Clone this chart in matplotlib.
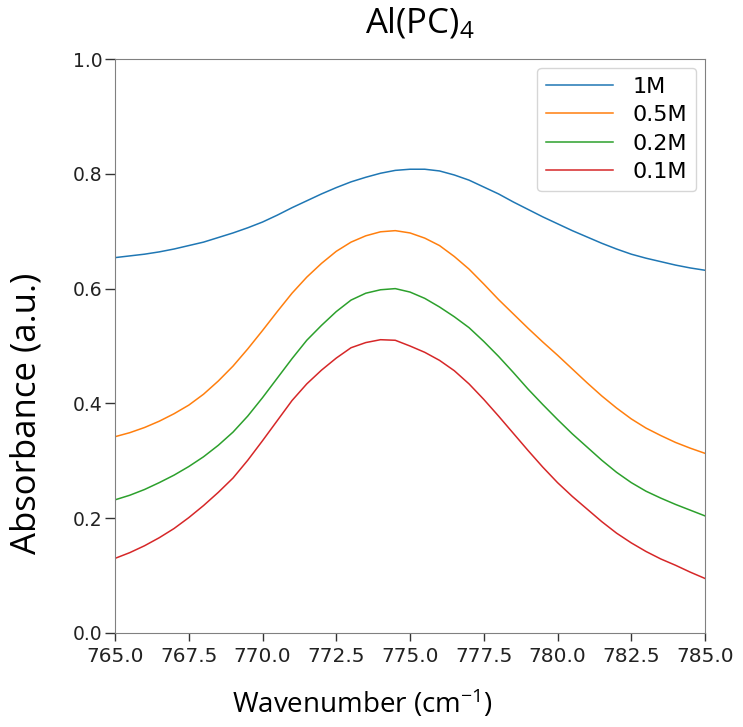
import numpy as np
import matplotlib
matplotlib.use("Agg")
import matplotlib.pyplot as plt

plt.rcParams["mathtext.fontset"] = "custom"
plt.rcParams["mathtext.rm"] = "Open Sans"
plt.rcParams["mathtext.it"] = "Open Sans:italic"

# wavenumber grid (cm-1) and absorbance
wavenumber = [765.0, 765.5, 766.0, 766.5, 767.0, 767.5, 768.0, 768.5, 769.0, 769.5,
              770.0, 770.5, 771.0, 771.5, 772.0, 772.5, 773.0, 773.5, 774.0, 774.5,
              775.0, 775.5, 776.0, 776.5, 777.0, 777.5, 778.0, 778.5, 779.0, 779.5,
              780.0, 780.5, 781.0, 781.5, 782.0, 782.5, 783.0, 783.5, 784.0, 784.5, 785.0]
abs_1m = [0.654, 0.657, 0.660, 0.664, 0.669, 0.675, 0.681, 0.689, 0.697, 0.706,
          0.716, 0.728, 0.741, 0.753, 0.765, 0.776, 0.786, 0.794, 0.801, 0.806,
          0.808, 0.808, 0.805, 0.798, 0.789, 0.777, 0.765, 0.751, 0.738, 0.725,
          0.713, 0.701, 0.690, 0.679, 0.669, 0.660, 0.653, 0.647, 0.641, 0.636, 0.632]
abs_05m = [0.342, 0.349, 0.358, 0.369, 0.382, 0.397, 0.416, 0.439, 0.465, 0.495,
           0.527, 0.560, 0.592, 0.620, 0.644, 0.665, 0.681, 0.692, 0.699, 0.701,
           0.697, 0.688, 0.675, 0.656, 0.634, 0.608, 0.581, 0.556, 0.531, 0.507,
           0.484, 0.460, 0.436, 0.413, 0.392, 0.373, 0.357, 0.344, 0.332, 0.322, 0.313]
abs_02m = [0.232, 0.240, 0.250, 0.262, 0.275, 0.290, 0.307, 0.327, 0.350, 0.378,
           0.410, 0.444, 0.478, 0.510, 0.536, 0.560, 0.580, 0.592, 0.598, 0.600,
           0.594, 0.583, 0.568, 0.551, 0.532, 0.508, 0.482, 0.454, 0.425, 0.398,
           0.372, 0.347, 0.324, 0.301, 0.280, 0.262, 0.247, 0.235, 0.224, 0.214, 0.204]
abs_01m = [0.130, 0.140, 0.152, 0.166, 0.182, 0.201, 0.222, 0.245, 0.270, 0.301,
           0.335, 0.370, 0.405, 0.434, 0.458, 0.479, 0.497, 0.506, 0.511, 0.510,
           0.500, 0.489, 0.475, 0.457, 0.434, 0.407, 0.378, 0.348, 0.318, 0.289,
           0.262, 0.238, 0.216, 0.194, 0.174, 0.157, 0.142, 0.129, 0.118, 0.106, 0.095]
labels = ["1M", "0.5M", "0.2M", "0.1M"]
colors = ["#1f77b4", "#ff7f0e", "#2ca02c", "#d62728"]

fig = plt.figure(figsize=(7.43, 7.27), dpi=100)
ax = fig.add_axes([0.1548, 0.1293, 0.7941, 0.7895])

for ys, lab, c in zip([abs_1m, abs_05m, abs_02m, abs_01m], labels, colors):
    ax.plot(wavenumber, ys, color=c, lw=1.1, label=lab)

ax.set_xlim(765, 785)
ax.set_ylim(0, 1.0)
ax.set_xticks(np.arange(765, 785.1, 2.5))
ax.set_yticks(np.arange(0, 1.01, 0.2))
ax.tick_params(axis="x", labelsize=14.5, length=6, pad=4)
ax.tick_params(axis="y", labelsize=13.5, length=7, pad=2)
ax.tick_params(width=1, color="#333333", labelcolor="#222222")
for s in ax.spines.values():
    s.set_color("#808080")

fig.text(420 / 743, 1 - 33 / 727, "Al(PC)$_4$", family="Open Sans", fontsize=25,
         ha="center", va="baseline")
ax.set_xlabel("Wavenumber (cm$^{\\mathregular{-1}}$)", family="Open Sans", fontsize=20)
ax.xaxis.set_label_coords(0.42, -0.095)
ax.set_ylabel("Absorbance (a.u.)", family="Open Sans", fontsize=25)
ax.yaxis.set_label_coords(-0.122, 0.383)

ax.legend(loc="upper right", fontsize=16, handlelength=3.0, handletextpad=0.9,
          labelspacing=0.38, borderaxespad=0.4, edgecolor="#cccccc")

fig.savefig("out.png", dpi=100)
